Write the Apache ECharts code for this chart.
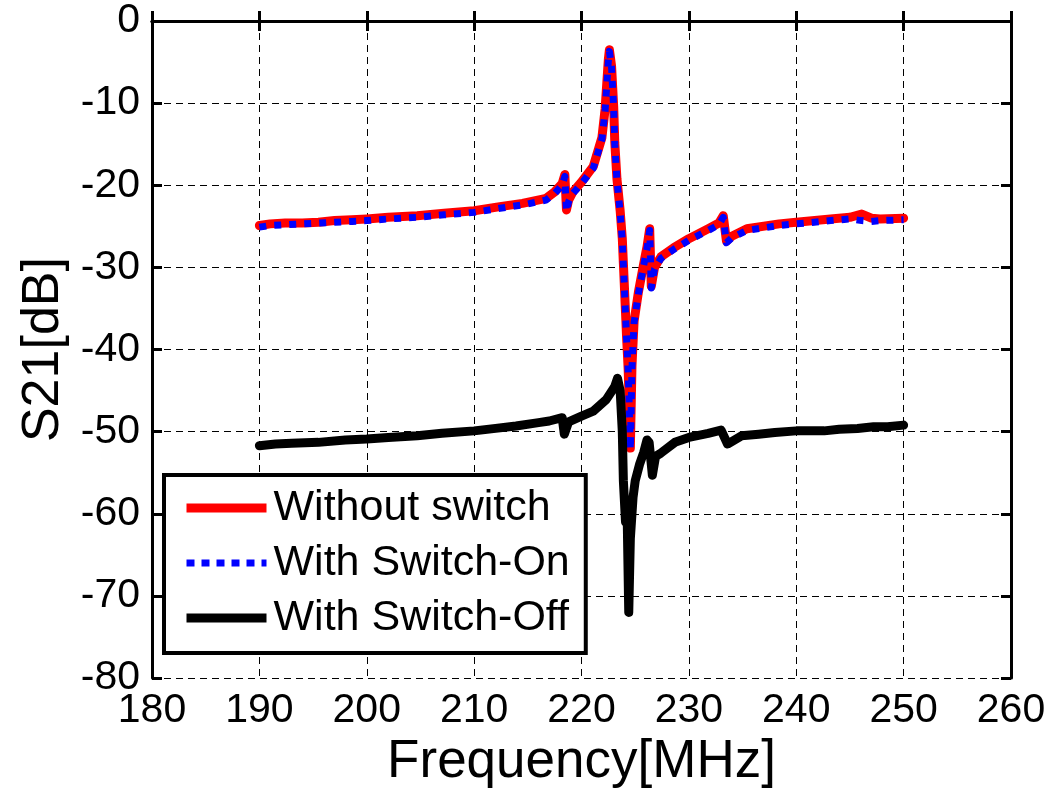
<!DOCTYPE html>
<html>
<head>
<meta charset="utf-8">
<script src="https://cdn.jsdelivr.net/npm/echarts@6/dist/echarts.min.js"></script>
<style>
html,body{margin:0;padding:0;background:#fff;}
#chart{width:1053px;height:794px;}
</style>
</head>
<body>
<div id="chart"></div>
<script>
// Frequency axis (MHz) for the "with switch" on / without switch traces
var freqOn = [190, 191, 192.4, 194, 195.5, 197, 198.6, 200, 202, 204.7, 207.2, 210, 212.4, 214.5, 216.7, 217.5, 218.2, 218.45, 218.6, 218.8, 219.2, 220, 221.1, 221.9, 222.2, 222.5, 222.6, 222.8, 223.0, 223.1, 223.3, 223.6, 223.8, 223.9, 224.1, 224.2, 224.35, 224.45, 224.55, 224.7, 224.9, 225.3, 225.8, 226.1, 226.35, 226.5, 226.8, 227.4, 228.6, 230, 231.8, 232.8, 233.2, 233.5, 234, 235.4, 238.4, 240, 243.2, 245, 246.1, 247, 247.8, 250];
// S21 [dB], without switch (red)
var withoutSwitch = [-24.9, -24.7, -24.6, -24.6, -24.5, -24.3, -24.2, -24.1, -23.9, -23.7, -23.4, -23.1, -22.6, -22.2, -21.6, -20.8, -19.8, -18.7, -23.0, -21.8, -20.8, -19.6, -17.7, -14.2, -10.7, -4.7, -3.5, -5.5, -10.5, -14.8, -19.2, -23.1, -26.5, -29.5, -35.5, -38.5, -42.5, -47.0, -52.0, -42.0, -36.5, -33.0, -29.5, -27.5, -25.3, -32.3, -30.0, -28.7, -27.6, -26.5, -25.3, -24.6, -23.7, -26.8, -26.2, -25.3, -24.7, -24.5, -24.1, -23.9, -23.5, -24.0, -24.1, -24.0];
// S21 [dB], with switch on (blue dotted)
var withSwitchOn = [-25.1, -24.9, -24.8, -24.7, -24.6, -24.5, -24.4, -24.3, -24.1, -23.9, -23.6, -23.3, -22.8, -22.4, -21.8, -21.0, -20.0, -18.9, -23.2, -22.0, -21.0, -19.8, -17.9, -14.4, -10.9, -4.9, -3.7, -5.7, -10.7, -15.0, -19.4, -23.3, -26.7, -29.7, -35.7, -38.7, -42.7, -47.2, -52.2, -42.2, -36.7, -33.2, -29.7, -27.7, -25.5, -32.5, -30.2, -28.9, -27.8, -26.7, -25.5, -24.8, -23.9, -27.0, -26.4, -25.5, -24.9, -24.7, -24.3, -24.1, -24.3, -24.4, -24.3, -24.2];
// Frequency axis (MHz) for the switch-off trace
var freqOff = [190, 191.5, 193, 195.5, 198, 200, 202, 204.7, 207, 210, 212, 213.9, 216, 217, 218.2, 218.4, 218.8, 220, 221.1, 222.3, 223.1, 223.35, 223.6, 223.8, 223.9, 224.1, 224.25, 224.4, 224.55, 224.8, 225.0, 225.4, 225.8, 226.1, 226.3, 226.6, 226.9, 227.4, 228.7, 230, 231.8, 233, 233.6, 234.9, 236.5, 238, 240, 242.6, 244, 245.7, 247.2, 248.5, 250];
// S21 [dB], with switch off (black)
var withSwitchOff = [-51.7, -51.5, -51.4, -51.3, -51.0, -50.9, -50.7, -50.5, -50.2, -49.9, -49.6, -49.3, -48.9, -48.7, -48.3, -50.3, -48.8, -48.1, -47.5, -46.1, -44.5, -43.5, -45.0, -50.0, -56.0, -61.0, -60.0, -72.0, -63.0, -58.0, -56.0, -54.0, -52.5, -51.0, -51.3, -55.3, -53.0, -52.6, -51.3, -50.7, -50.2, -49.8, -51.5, -50.5, -50.3, -50.1, -49.9, -49.9, -49.7, -49.6, -49.4, -49.4, -49.2];

var xTicks = [180, 260, 10];
var yTicks = [-80, 0, 10];
var names = ['Without switch', 'With Switch-On', 'With Switch-Off'];

function pairs(xs, ys) { return xs.map(function (x, i) { return [x, ys[i]]; }); }

var FONT = '"Liberation Sans", Arial, Helvetica, sans-serif';
var chart = echarts.init(document.getElementById('chart'), null, { renderer: 'canvas' });

var axisLine = { show: true, lineStyle: { color: '#000', width: 3 } };
var axisTick = { show: true, inside: true, length: 10, lineStyle: { color: '#000', width: 3 } };
var gridLine = { show: true, lineStyle: { color: '#000', width: 1, type: [7, 5] } };

chart.setOption({
  backgroundColor: '#fff',
  animation: false,
  textStyle: { fontFamily: FONT },
  grid: { left: 152, right: 42, top: 21, bottom: 114, containLabel: false },
  xAxis: [{
    type: 'value', min: xTicks[0], max: xTicks[1], interval: xTicks[2],
    position: 'bottom',
    name: 'Frequency[MHz]', nameLocation: 'middle', nameGap: 49,
    nameTextStyle: { fontSize: 53, color: '#000', fontFamily: FONT },
    axisLine: axisLine, axisTick: axisTick, splitLine: gridLine,
    axisLabel: { fontSize: 41, color: '#000', margin: 12, fontFamily: FONT }
  }, {
    type: 'value', min: xTicks[0], max: xTicks[1], interval: xTicks[2],
    position: 'top', axisLine: axisLine, axisTick: axisTick,
    splitLine: { show: false }, axisLabel: { show: false }
  }],
  yAxis: [{
    type: 'value', min: yTicks[0], max: yTicks[1], interval: yTicks[2],
    position: 'left',
    name: 'S21[dB]', nameLocation: 'middle', nameGap: 82,
    nameTextStyle: { fontSize: 52, color: '#000', fontFamily: FONT },
    axisLine: axisLine, axisTick: axisTick, splitLine: gridLine,
    axisLabel: { fontSize: 41, color: '#000', margin: 12, fontFamily: FONT }
  }, {
    type: 'value', min: yTicks[0], max: yTicks[1], interval: yTicks[2],
    position: 'right', axisLine: axisLine, axisTick: axisTick,
    splitLine: { show: false }, axisLabel: { show: false }
  }],
  legend: {
    orient: 'vertical', left: 164, top: 475,
    backgroundColor: '#fff', borderColor: '#000', borderWidth: 4,
    padding: [10, 16, 12, 18],
    itemWidth: 80, itemHeight: 14, itemGap: 9,
    itemStyle: { opacity: 0 },
    textStyle: { fontSize: 43, color: '#000', lineHeight: 46, fontFamily: FONT, padding: [0, 0, 0, 2] },
    data: [
      { name: names[0], lineStyle: { width: 9, color: '#ff0000', type: 'solid', cap: 'butt' } },
      { name: names[1], lineStyle: { width: 7, color: '#0000ff', type: [8, 7], cap: 'butt' } },
      { name: names[2], lineStyle: { width: 9, color: '#000000', type: 'solid', cap: 'butt' } }
    ]
  },
  series: [{
    name: names[0], type: 'line', data: pairs(freqOn, withoutSwitch),
    showSymbol: false, symbol: 'none', color: '#ff0000',
    lineStyle: { color: '#ff0000', width: 9, cap: 'round', join: 'round' }, z: 2
  }, {
    name: names[1], type: 'line', data: pairs(freqOn, withSwitchOn),
    showSymbol: false, symbol: 'none', color: '#0000ff',
    lineStyle: { color: '#0000ff', width: 7, type: [7, 8], cap: 'butt', join: 'round' }, z: 3
  }, {
    name: names[2], type: 'line', data: pairs(freqOff, withSwitchOff),
    showSymbol: false, symbol: 'none', color: '#000000',
    lineStyle: { color: '#000000', width: 9, cap: 'round', join: 'round' }, z: 4
  }]
});
</script>
</body>
</html>
